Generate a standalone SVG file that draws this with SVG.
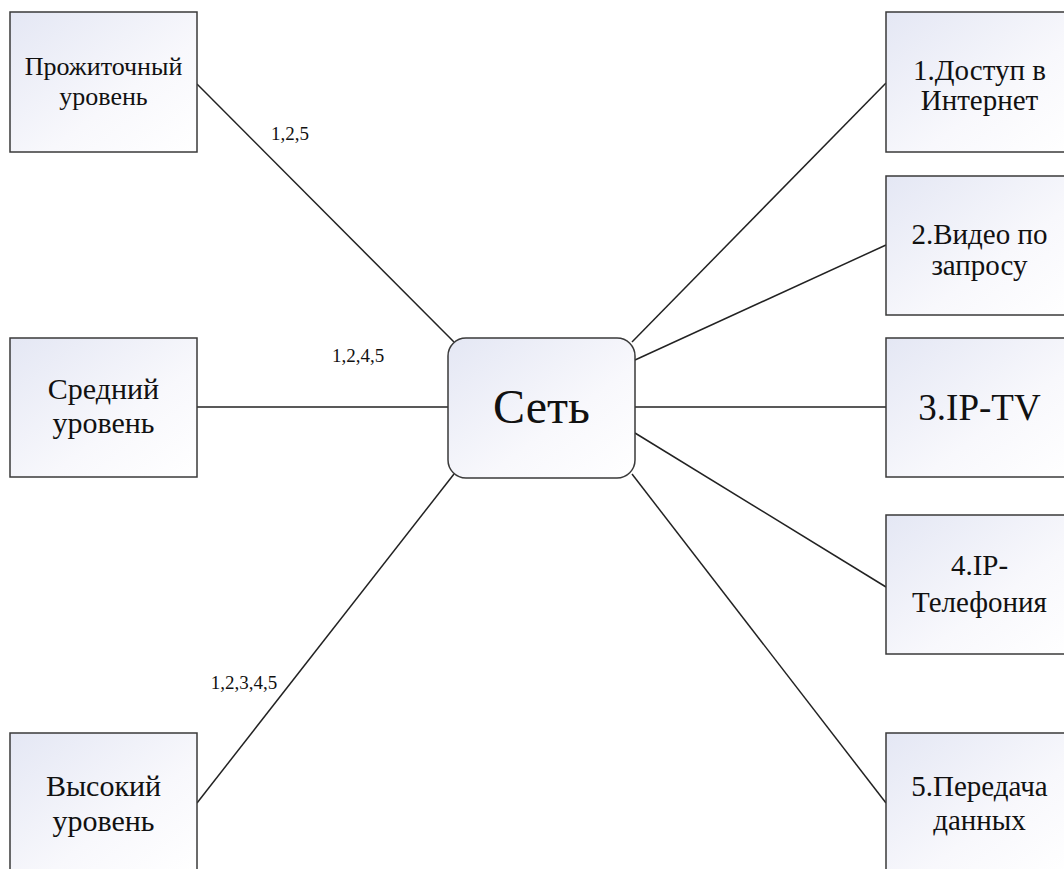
<svg xmlns="http://www.w3.org/2000/svg" width="1064" height="869" viewBox="0 0 1064 869">
<defs>
<linearGradient id="g" x1="0" y1="0" x2="1" y2="1">
<stop offset="0" stop-color="#e4e7f4"/>
<stop offset="0.6" stop-color="#f8f8fc"/>
<stop offset="1" stop-color="#ffffff"/>
</linearGradient>
<style>
.box{fill:url(#g);stroke:#3a3a3a;stroke-width:1.5}
.t{fill:#111;text-anchor:middle}
.l{font-size:30px}
.r{font-size:29px}
.lab{font-size:19px;fill:#111;text-anchor:middle}
.c{stroke:#222;stroke-width:1.5;fill:none}
</style>
</defs>
<rect width="1064" height="869" fill="#fff"/>
<g font-family="'Liberation Serif', 'DejaVu Serif', 'Times New Roman', serif">
<g id="connectors">
<line class="c" x1="197" y1="84" x2="454" y2="342"/>
<line class="c" x1="197" y1="407" x2="448" y2="407"/>
<line class="c" x1="197" y1="803" x2="454" y2="474"/>
<line class="c" x1="886" y1="83" x2="632" y2="342"/>
<line class="c" x1="886" y1="245" x2="635" y2="360"/>
<line class="c" x1="635" y1="407" x2="886" y2="407"/>
<line class="c" x1="635" y1="433" x2="886" y2="587"/>
<line class="c" x1="632" y1="474" x2="886" y2="803"/>
<text class="lab" x="290" y="140">1,2,5</text>
<text class="lab" x="358" y="362">1,2,4,5</text>
<text class="lab" x="244" y="689">1,2,3,4,5</text>
</g>
<g id="n-prozh">
<rect class="box" x="10" y="12" width="187" height="140"/>
<text class="t" x="103.5" y="75" font-size="26">Прожиточный</text>
<text class="t" x="103.5" y="105" font-size="26">уровень</text>
</g>
<g id="n-sred">
<rect class="box" x="10" y="338" width="187" height="139"/>
<text class="t l" x="103.5" y="399">Средний</text>
<text class="t l" x="103.5" y="433">уровень</text>
</g>
<g id="n-vys">
<rect class="box" x="10" y="733" width="187" height="140"/>
<text class="t l" x="103.5" y="796">Высокий</text>
<text class="t l" x="103.5" y="831">уровень</text>
</g>
<g id="n-set">
<rect class="box" x="448" y="338" width="187" height="140" rx="18" ry="18"/>
<text class="t" x="541.5" y="423" font-size="48">Сеть</text>
</g>
<g id="n-1">
<rect class="box" x="886" y="12" width="187" height="140"/>
<text class="t r" x="979.5" y="80">1.Доступ в</text>
<text class="t r" x="979.5" y="110">Интернет</text>
</g>
<g id="n-2">
<rect class="box" x="886" y="176" width="187" height="139"/>
<text class="t r" x="979.5" y="244">2.Видео по</text>
<text class="t r" x="979.5" y="275">запросу</text>
</g>
<g id="n-3">
<rect class="box" x="886" y="338" width="187" height="139"/>
<text class="t" x="979.5" y="420" font-size="37">3.IP-TV</text>
</g>
<g id="n-4">
<rect class="box" x="886" y="515" width="187" height="139"/>
<text class="t r" x="979.5" y="575">4.IP-</text>
<text class="t r" x="979.5" y="612">Телефония</text>
</g>
<g id="n-5">
<rect class="box" x="886" y="733" width="187" height="140"/>
<text class="t r" x="979.5" y="796">5.Передача</text>
<text class="t r" x="979.5" y="830">данных</text>
</g>
</g>
</svg>
